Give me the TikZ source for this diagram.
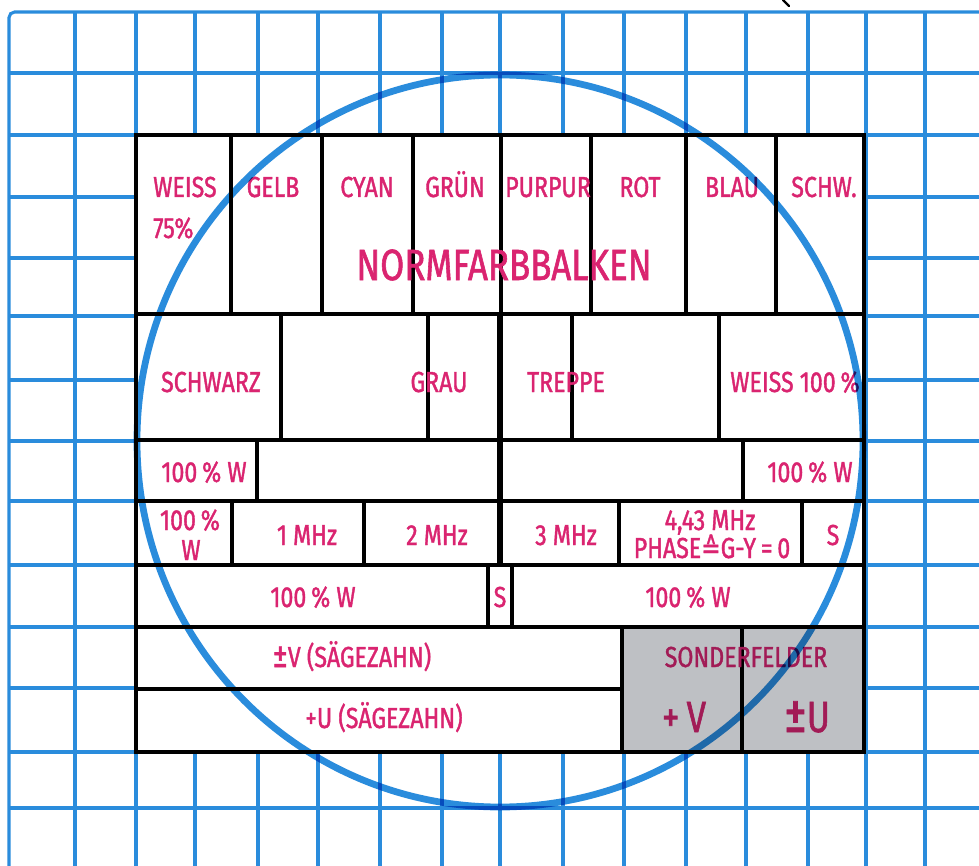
\documentclass[tikz,border=0pt]{standalone}
\usepackage{fontspec}
\setmainfont{Fira Sans}[FakeStretch=0.8,FakeBold=1.3]
\newfontfamily\symbfont{DejaVu Sans}[FakeStretch=0.8,FakeBold=1]
\usetikzlibrary{positioning}
\definecolor{gridblue}{HTML}{2A8CDC}
\definecolor{barmagenta}{HTML}{DA2470}
\definecolor{fieldgray}{HTML}{BEC0C4}
\newcommand{\grosspm}{{\fontsize{1.3em}{1em}\selectfont ±}}

\begin{document}
\begin{tikzpicture}[x=0.025cm,y=-0.025cm,
    lbl/.style={text=barmagenta,font=\fontsize{20.6}{24}\selectfont,inner sep=0pt,anchor=base},
    biglbl/.style={lbl,font=\fontsize{31}{36}\selectfont},
    cellline/.style={line width=2.4pt,black},
    gridline/.style={line width=2.2pt,gridblue}]
  \useasboundingbox (0,0) rectangle (979,866);
  \fill[white] (0,0) rectangle (979,866);
  % raster
  \foreach \gx in {75,136,195,258,318,380,442,500,563,624,686,746,808,866,925}
    \draw[gridline] (\gx,12) -- (\gx,866);
  \foreach \gy in {73,135,197,258,316,380,441,501,565,627,688,752,808}
    \draw[gridline] (9,\gy) -- (979,\gy);
  \draw[gridline,rounded corners=4] (9,866) -- (9,12) -- (979,12);
  \draw[line width=1.6pt,line cap=round] (783,0) -- (789,6);
  \fill[white] (136,135) rectangle (864,752);
  % felder
  \foreach \ry in {314,440,501,565,627}
    \draw[cellline] (136,\ry) -- (864,\ry);
  \draw[cellline] (136,689) -- (622,689);
  \foreach \cx in {231,322,413,501,591,686,776}
    \draw[cellline] (\cx,135) -- (\cx,314);
  \foreach \cx in {281,428,572,719}
    \draw[cellline] (\cx,314) -- (\cx,440);
  \foreach \cx in {257,743}
    \draw[cellline] (\cx,440) -- (\cx,501);
  \foreach \cx in {232,364,619,802}
    \draw[cellline] (\cx,501) -- (\cx,565);
  \foreach \cx in {488,512}
    \draw[cellline] (\cx,565) -- (\cx,627);
  \foreach \cx in {622,742}
    \draw[cellline] (\cx,627) -- (\cx,752);
  \draw[line width=4.5pt] (500,314) -- (500,565);
  \draw[line width=2.8pt] (136,135) rectangle (864,752);
  % farbbalken
  \node[lbl,anchor=base west] (weiss) at (153,197) {WEISS};
  \node[lbl,anchor=base west] (weissproz) at (153,238) {75\%};
  \node[lbl] (gelb) at (273,197) {GELB};
  \node[lbl] (cyan) at (367,197) {CYAN};
  \node[lbl] (gruen) at (455,197) {GRÜN};
  \node[lbl] (purpur) at (548,197) {PURPUR};
  \node[lbl] (rot) at (640,197) {ROT};
  \node[lbl] (blau) at (732,197) {BLAU};
  \node[lbl] (schw) at (824,197) {SCHW.};
  \node[biglbl] (normfarb) at (504,280) {NORMFARBBALKEN};
  % treppe
  \node[lbl] (schwarz) at (211,392) {SCHWARZ};
  \node[lbl] (grau) at (439,392) {GRAU};
  \node[lbl] (treppe) at (566,392) {TREPPE};
  \node[lbl] (weisshundert) at (795,392) {WEISS 100\,\%};
  \node[lbl] (wlinks) at (204,482) {100\,\% W};
  \node[lbl] (wrechts) at (810,482) {100\,\% W};
  % multiburst
  \node[lbl] (wklein) at (190,530) {100\,\%};
  \node[lbl] (wkleinw) at (191,560) {W};
  \node[lbl] (einmhz) at (307,545) {1 MHz};
  \node[lbl] (zweimhz) at (437,545) {2 MHz};
  \node[lbl] (dreimhz) at (566,545) {3 MHz};
  \node[lbl] (vierdrei) at (710,530) {4,43 MHz};
  \node[lbl] (phase) at (712,558) {PHASE{\symbfont≙}G-Y{\,=\,}0};
  \node[lbl] (sbalken) at (833,545) {S};
  \node[lbl] (wzeile) at (313,607) {100\,\% W};
  \node[lbl] (smitte) at (500,607) {S};
  \node[lbl] (wzeilerechts) at (688,607) {100\,\% W};
  % saegezahn
  \node[lbl] (vsaege) at (352,667) {\grosspm V (SÄGEZAHN)};
  \node[lbl] (usaege) at (384,728) {+U (SÄGEZAHN)};
  \node[lbl] (sonder) at (746,667) {SONDERFELDER};
  \node[biglbl] (plusv) at (684,732) {+\,V};
  \node[biglbl] (plusminusu) at (807,732) {\grosspm U};
  \begin{scope}[blend mode=multiply]
    \fill[fieldgray] (622,627) rectangle (864,752);
    \draw[gridblue,line width=4.8pt] (500,441) circle[x radius=363,y radius=366];
  \end{scope}
\end{tikzpicture}
\end{document}
